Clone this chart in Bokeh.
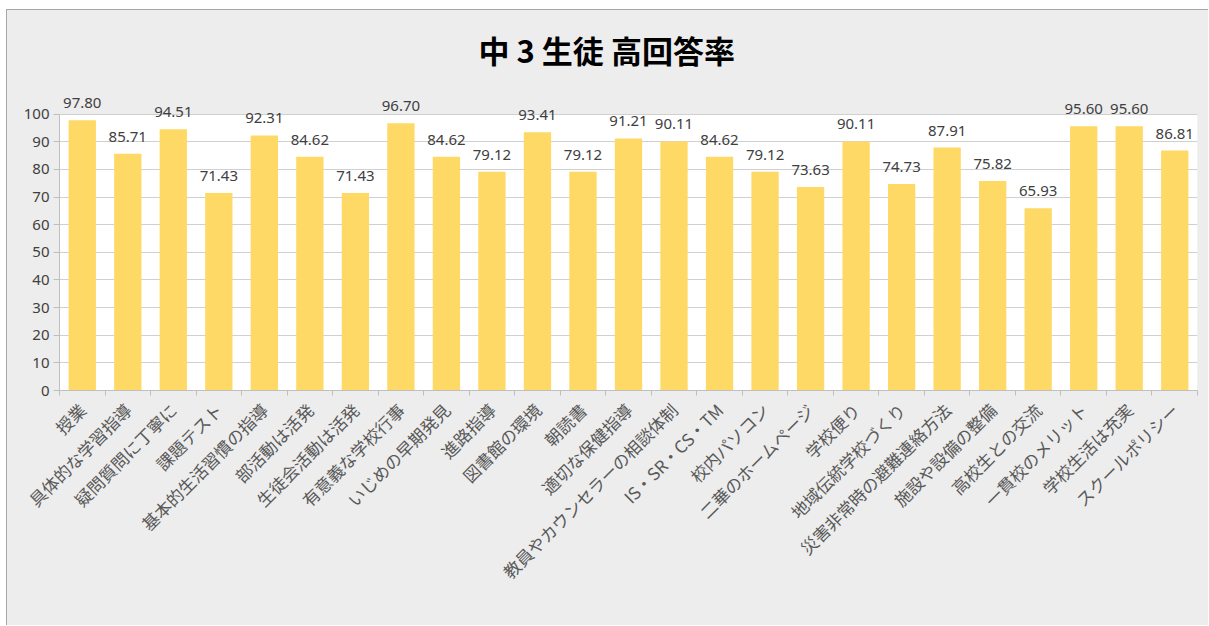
import math
from bokeh.plotting import figure
from bokeh.models import Range1d, FixedTicker, LabelSet, BoxAnnotation, ColumnDataSource
from bokeh.core.properties import value
from bokeh.embed import file_html
from bokeh.resources import INLINE

title_text = "中 3 生徒 高回答率"
categories = [
    "授業", "具体的な学習指導", "疑問質問に丁寧に", "課題テスト", "基本的生活習慣の指導",
    "部活動は活発", "生徒会活動は活発", "有意義な学校行事", "いじめの早期発見", "進路指導",
    "図書館の環境", "朝読書", "適切な保健指導", "教員やカウンセラーの相談体制", "IS・SR・CS・TM",
    "校内パソコン", "二華のホームページ", "学校便り", "地域伝統学校づくり", "災害非常時の避難連絡方法",
    "施設や設備の整備", "高校生との交流", "一貫校のメリット", "学校生活は充実", "スクールポリシー",
]
values = [
    97.80, 85.71, 94.51, 71.43, 92.31,
    84.62, 71.43, 96.70, 84.62, 79.12,
    93.41, 79.12, 91.21, 90.11, 84.62,
    79.12, 73.63, 90.11, 74.73, 87.91,
    75.82, 65.93, 95.60, 95.60, 86.81,
]
y_ticks = [0, 10, 20, 30, 40, 50, 60, 70, 80, 90, 100]
y_max_axis = 100

n = len(categories)
xs = list(range(n))
src = ColumnDataSource(dict(x=xs, y=values, lab=[f"{v:.2f}" for v in values]))

BG = "#EDEDED"
GRID = "#D0D0D0"
JP = "Noto Sans CJK JP"
NUM = "Noto Sans"

p = figure(width=1202, height=616, output_backend="svg", toolbar_location=None,
           x_range=Range1d(-0.5, n - 0.5), y_range=Range1d(0, 110),
           min_border_left=52, min_border_right=12, min_border_top=74, min_border_bottom=236,
           styles={"margin-left": "6px", "margin-top": "9px", "background-color": BG,
                   "border-left": "1px solid #A6A6A6", "border-top": "1px solid #A6A6A6"})
p.background_fill_color = BG
p.border_fill_color = BG
p.outline_line_color = None

# white plotting area from 0 to 100, grey above it, beneath the gridlines
p.add_layout(BoxAnnotation(bottom=0, top=y_max_axis, fill_color="white", fill_alpha=1,
                           line_color=None, level="image"))
p.add_layout(BoxAnnotation(bottom=y_max_axis, fill_color=BG, fill_alpha=1,
                           line_color=None, level="image"))

p.vbar(x="x", top="y", width=0.6, source=src, fill_color="#FFD966", line_color=None)

labels = LabelSet(x="x", y="y", text="lab", source=src, text_align="center",
                  text_baseline="alphabetic", y_offset=12, text_font=value(NUM),
                  text_font_size=value("15px"), text_color="#404040")
p.add_layout(labels)

# x axis: labels at bar centres, tick marks between categories
p.xaxis.ticker = FixedTicker(ticks=xs, minor_ticks=[i - 0.5 for i in range(n + 1)])
p.xaxis.major_label_overrides = {i: c for i, c in zip(xs, categories)}
p.xaxis.major_label_orientation = math.pi / 4
p.xaxis.major_tick_line_color = None
p.xaxis.minor_tick_line_color = "#BFBFBF"
p.xaxis.minor_tick_in = 0
p.xaxis.minor_tick_out = 5
p.xaxis.axis_line_color = "#BFBFBF"
p.xaxis.major_label_text_font = JP
p.xaxis.major_label_text_font_size = "17px"
p.xaxis.major_label_text_color = "#595959"
p.xaxis.major_label_standoff = 10
p.xgrid.grid_line_color = None

p.yaxis.ticker = FixedTicker(ticks=y_ticks)
p.yaxis.bounds = (0, y_max_axis)
p.yaxis.minor_tick_line_color = None
p.yaxis.major_tick_line_color = "#BFBFBF"
p.yaxis.major_tick_in = 0
p.yaxis.major_tick_out = 6
p.yaxis.axis_line_color = "#BFBFBF"
p.yaxis.major_label_text_font = NUM
p.yaxis.major_label_text_font_size = "15px"
p.yaxis.major_label_text_color = "#404040"
p.yaxis.major_label_standoff = 4
p.ygrid.grid_line_color = GRID
p.ygrid.ticker = FixedTicker(ticks=y_ticks)

p.title.text = title_text
p.title.align = "left"
p.title.offset = 419
p.title.standoff = 29
p.title.text_font = JP
p.title.text_font_size = "31px"
p.title.text_font_style = "bold"
p.title.text_color = "#000000"

open("out.html", "w").write(file_html(p, INLINE))
